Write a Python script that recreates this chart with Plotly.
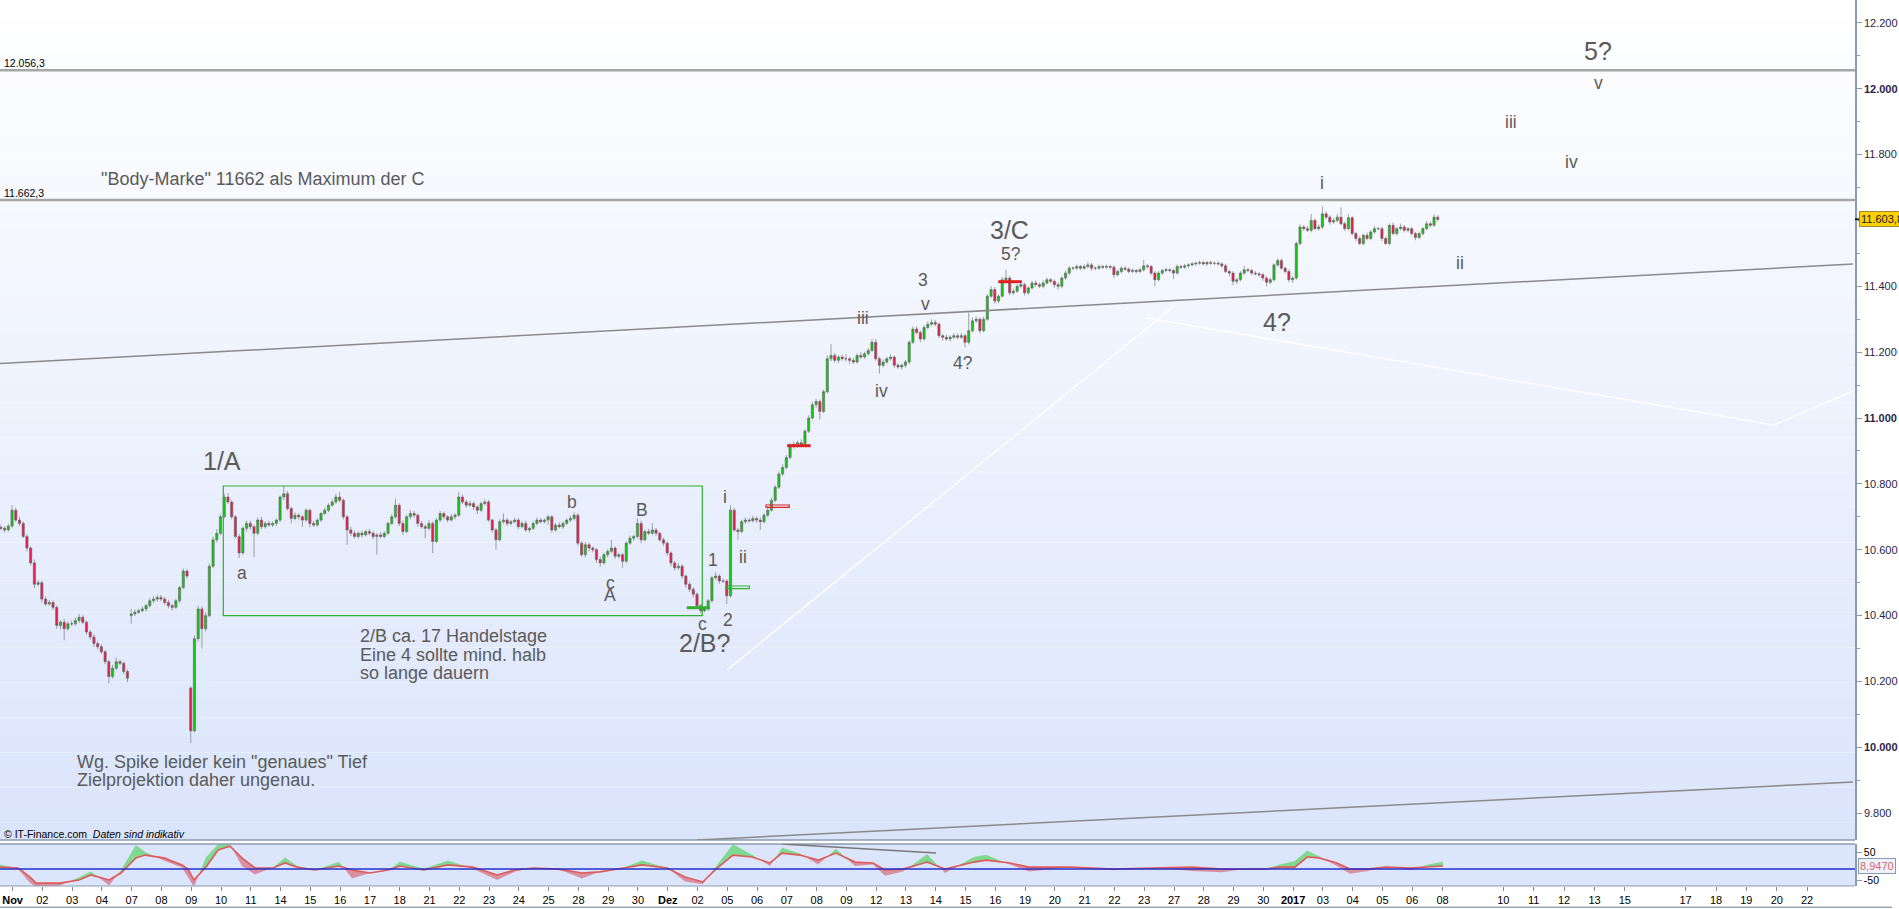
import plotly.graph_objects as go

# ---------------- data ----------------
TRADING_DAYS = [
    "2016-10-31",
    "2016-11-01", "2016-11-02", "2016-11-03", "2016-11-04", "2016-11-07", "2016-11-08",
    "2016-11-09", "2016-11-10", "2016-11-11", "2016-11-14", "2016-11-15", "2016-11-16",
    "2016-11-17", "2016-11-18", "2016-11-21", "2016-11-22", "2016-11-23", "2016-11-24",
    "2016-11-25", "2016-11-28", "2016-11-29", "2016-11-30",
    "2016-12-01", "2016-12-02", "2016-12-05", "2016-12-06", "2016-12-07", "2016-12-08",
    "2016-12-09", "2016-12-12", "2016-12-13", "2016-12-14", "2016-12-15", "2016-12-16",
    "2016-12-19", "2016-12-20", "2016-12-21", "2016-12-22", "2016-12-23", "2016-12-27",
    "2016-12-28", "2016-12-29", "2016-12-30",
    "2017-01-02", "2017-01-03", "2017-01-04", "2017-01-05", "2017-01-06",
]

# hourly candles: "close/upper wick/lower wick"
OCT_CANDLES = ["10665/8/6 10660/6/8 10672/6/5"]
NOV_CANDLES = [
    "10720/15/7 10690/8/6 10680/10/8 10640/6/5 10605/8/10 10560/5/8 10495/10/12 10500/8/6",
    "10450/6/10 10435/8/6 10440/8/5 10425/6/8 10370/5/10 10380/6/12 10360/10/35 10375/8/6",
    "10375/10/6 10385/8/5 10395/10/8 10380/6/6 10350/5/8 10335/6/8 10315/8/10 10305/6/8",
    "10290/8/6 10260/5/8 10215/6/20 10240/10/6 10260/12/5 10255/6/6 10230/5/8 10210/6/12",
    "10405/15/25 10410/8/6 10415/6/5 10420/8/6 10430/6/8 10445/8/5 10450/10/6 10455/8/8",
    "10450/8/6 10440/6/8 10430/8/8 10425/6/10 10445/6/5 10485/5/6 10535/8/5 10520/6/8",
    "10050/5/37 10330/10/5 10420/10/10 10360/8/60 10400/10/8 10550/8/6 10630/10/6 10650/12/8",
    "10700/8/6 10760/10/5 10745/12/6 10700/6/8 10640/5/6 10590/8/15 10665/6/5 10680/8/10",
    "10670/8/10 10650/6/72 10690/8/6 10670/10/8 10680/6/6 10675/8/5 10680/6/6 10690/5/8",
    "10760/5/6 10770/25/10 10725/8/6 10695/6/15 10705/8/6 10700/6/8 10690/5/20 10720/6/5",
    "10680/5/12 10675/8/6 10690/6/5 10710/5/6 10720/8/5 10735/6/6 10745/8/5 10760/10/6",
    "10750/15/6 10700/6/8 10660/5/45 10650/10/8 10640/8/6 10650/6/6 10645/8/8 10655/6/5",
    "10650/8/6 10640/6/8 10645/6/55 10640/8/6 10650/6/5 10680/5/6 10700/8/5 10735/20/6",
    "10680/6/8 10655/8/10 10700/6/5 10710/10/6 10705/8/8 10680/5/10 10670/8/6 10665/6/30",
    "10680/10/6 10625/6/35 10690/6/5 10710/8/6 10700/6/8 10690/5/6 10700/8/5 10705/6/8",
    "10760/15/5 10745/8/6 10735/6/8 10740/8/5 10730/6/10 10720/5/12 10740/6/5 10745/8/6",
    "10690/6/5 10660/5/8 10630/6/30 10685/8/5 10690/20/6 10680/6/8 10685/5/6 10690/6/5",
    "10670/6/8 10680/6/5 10660/8/6 10665/5/8 10680/6/5 10690/8/6 10685/6/5 10690/5/6",
    "10700/6/15 10660/5/8 10675/6/6 10670/8/5 10680/6/6 10690/5/5 10695/8/6 10705/8/6",
    "10620/6/8 10585/5/6 10615/8/8 10605/6/10 10600/5/8 10570/6/10 10560/8/12 10585/6/5",
    "10595/6/8 10605/25/6 10580/5/8 10585/6/6 10565/6/20 10620/5/6 10635/8/5 10640/6/8",
    "10680/15/6 10630/8/10 10655/6/5 10650/8/6 10660/20/5 10650/6/8 10630/5/6 10620/6/8",
]
DEC_CANDLES = [
    "10590/6/8 10560/5/10 10545/6/8 10550/8/6 10520/6/8 10495/5/10 10480/8/8 10465/6/10",
    "10430/5/8 10415/6/8 10420/6/5 10445/5/6 10515/6/5 10520/12/6 10505/6/8 10505/8/6",
    "10460/5/25 10720/15/5 10660/8/6 10655/6/25 10685/6/5 10690/8/6 10688/6/6 10695/8/5",
    "10690/6/8 10685/8/25 10705/6/5 10720/10/6 10750/8/5 10790/6/6 10830/8/5 10850/10/6",
    "10880/8/6 10915/10/6 10920/8/8 10925/6/10 10920/10/8 10960/6/5 11000/8/6 11040/10/5",
    "11050/8/10 11020/6/25 11080/6/5 11180/10/6 11190/35/8 11175/8/6 11185/6/8 11180/8/6",
    "11180/15/8 11175/6/10 11170/8/6 11190/6/5 11185/10/6 11195/6/5 11205/8/6 11230/10/5",
    "11180/10/6 11160/6/25 11170/8/6 11180/6/5 11185/8/6 11160/5/8 11155/6/6 11160/5/8",
    "11170/6/8 11230/5/6 11270/8/5 11260/8/6 11240/5/10 11275/6/5 11285/8/6 11290/10/6",
    "11285/8/6 11250/5/8 11245/6/10 11240/8/6 11245/6/8 11250/8/5 11245/6/6 11250/8/5",
    "11230/6/15 11265/55/6 11295/10/5 11300/8/6 11265/6/8 11300/8/5 11370/6/5 11390/10/6",
    "11355/8/8 11370/6/6 11420/8/5 11425/25/6 11380/6/8 11385/8/6 11400/6/5 11405/8/6",
    "11380/6/8 11395/5/6 11410/6/5 11405/8/6 11400/6/5 11410/8/6 11420/6/5 11415/5/6",
    "11405/6/10 11400/8/10 11425/5/6 11440/8/5 11455/6/6 11455/5/6 11460/6/5 11455/5/6",
    "11460/6/5 11465/8/6 11455/6/8 11455/5/6 11460/6/5 11458/5/6 11460/6/5 11458/5/6",
    "11435/6/10 11445/6/5 11455/5/6 11452/6/5 11445/5/6 11448/6/5 11445/5/6 11450/6/5",
    "11462/18/5 11460/6/6 11440/5/6 11420/6/20 11440/6/5 11448/5/6 11450/6/5 11448/5/6",
    "11440/6/18 11460/6/5 11458/5/6 11462/6/5 11465/5/6 11468/6/5 11470/5/6 11472/6/5",
    "11468/6/5 11472/5/6 11470/6/5 11470/5/6 11468/6/5 11462/5/6 11445/6/5 11440/5/10",
    "11415/6/12 11420/5/8 11440/6/5 11450/12/6 11448/6/5 11440/5/6 11438/6/5 11435/5/6",
    "11425/6/8 11412/5/12 11420/6/6 11465/5/6 11478/7/5 11455/6/5 11445/5/6 11420/6/8",
]
JAN_CANDLES = [
    "11425/6/10 11530/6/5 11580/8/6 11575/6/6 11570/8/5 11600/20/6 11575/6/5 11580/8/6",
    "11620/23/6 11610/8/6 11595/6/8 11600/8/5 11610/10/6 11590/30/5 11575/6/6 11608/12/5",
    "11560/6/6 11545/5/8 11530/6/5 11555/5/6 11545/8/5 11565/6/5 11575/8/6 11575/6/5",
    "11545/6/8 11530/6/5 11585/6/6 11560/8/5 11575/6/6 11580/10/5 11570/6/6 11575/5/6",
    "11560/6/6 11548/5/8 11560/6/5 11575/5/6 11590/8/5 11585/6/6 11610/8/5 11603/6/6",
]
GAP_OPENS = {"2016-10-31": 10668, "2016-11-07": 10400, "2016-11-09": 10180}
CANDLES_PER_DAY = 8

# indicator pane: sample times (trading-day units), signal line and raw line
IND_T = [-0.34, 0.26, 0.66, 0.87, 1.67, 2.31, 2.71, 3.32, 3.72, 4.22, 4.53, 5.16, 5.77, 5.97,
         6.17, 6.57, 6.98, 7.38, 7.78, 8.22, 8.82, 9.23, 9.63, 10.23, 11.04, 11.48, 12.08,
         12.69, 13.09, 13.89, 14.70, 15.54, 16.35, 16.95, 17.56, 18.39, 19.20, 19.80, 20.61,
         21.21, 22.06, 22.66, 23.26, 23.67, 24.27, 24.91, 25.51, 25.92, 26.52, 27.13, 27.73,
         28.37, 28.97, 29.38, 29.98, 30.79, 31.39, 32.36, 32.77, 33.57, 34.21, 35.62, 37.03,
         38.27, 39.68, 40.69, 41.53, 42.14, 42.64, 43.14, 43.55, 43.95, 44.55, 44.99, 45.59,
         46.20, 47.01, 47.61, 48.11]
IND_SIGNAL = [-4, -7, -39, -61, -61, -50, -32, -50, -25, 29, 39, 29, 4, -11, -50, -4, 57, 71,
              29, -7, -7, 11, -4, -14, 0, -14, -25, -14, 0, -14, 4, -4, -32, -14, -7, -11, -25,
              -21, -7, 4, -7, -39, -57, -14, 39, 32, 11, 46, 39, 21, 46, 14, 11, -14, -11, 14,
              -11, 14, 21, 11, -4, -4, -11, -7, -4, -11, -11, -11, -4, -4, 32, 29, 11, -11,
              -11, -4, -7, -4, 0]
IND_RAW = [5, -10, -60, -75, -70, -40, -20, -70, -15, 75, 50, 20, -5, -40, -75, 30, 78, 78, 0,
           -30, -5, 30, 0, -15, 15, -45, -25, -15, 15, -10, 20, -10, -50, -20, -5, -10, -45,
           -20, -5, 20, -5, -55, -65, -5, 78, 40, 0, 65, 45, 5, 62, 0, 5, -35, -20, 42, -25,
           32, 40, 5, -20, -5, -15, -5, -18, -22, -10, -10, 5, 18, 55, 35, 0, -28, -18, 0,
           -15, 5, 15]
IND_BASELINE = -11
IND_LAST_LABEL = "8,9470"

PRICE_TICKS = [9800, 10000, 10200, 10400, 10600, 10800, 11000, 11200, 11400, 11800, 12000, 12200]
LEVELS = [12056.3, 11662.3]
LAST_PRICE_LABEL = "11.603,8"
FUTURE_SLOTS = [48, 50, 51, 52, 53, 54, 56, 57, 58, 59, 60]
FUTURE_LABELS = ["08", "10", "11", "12", "13", "15", "17", "18", "19", "20", "22"]
MONTHS_DE = {1: "Jan", 11: "Nov", 12: "Dez"}

# ---------------- geometry / style ----------------
W, H = 1899, 909
PLOT_R = 1855
MAIN_BOTTOM_PX = 840
IND_TOP_PX, IND_BOT_PX = 844, 886
PX_PER_DAY, DAY0_PX = 29.78, 10.2
PX_PER_PT, Y12000_PX = 0.3293, 88.7
XR = [(0 - DAY0_PX) / PX_PER_DAY, (PLOT_R - DAY0_PX) / PX_PER_DAY]
YR = [12000 - (MAIN_BOTTOM_PX - Y12000_PX) / PX_PER_PT, 12000 + Y12000_PX / PX_PER_PT]
IND_R = [-71.4, 78.6]
FONT = "Liberation Sans, Arial, sans-serif"
TXT = "#5a5a5a"
AXIS_C = "#8c9cb0"


def de_num(v, dec=0):
    s = f"{v:,.{dec}f}"
    return s.replace(",", "X").replace(".", ",").replace("X", ".")


# ---------------- build candles ----------------
all_days = OCT_CANDLES + NOV_CANDLES + DEC_CANDLES + JAN_CANDLES
xs, op, hi, lo, cl = [], [], [], [], []
prev = None
for i, (day, s) in enumerate(zip(TRADING_DAYS, all_days)):
    toks = s.split()
    n = len(toks)
    for j, t in enumerate(toks):
        c, up, dn = (float(v) for v in t.split("/"))
        k = CANDLES_PER_DAY - n + j
        o = GAP_OPENS[day] if (j == 0 and day in GAP_OPENS) else prev
        xs.append((i - 1) + (k + 0.5) / CANDLES_PER_DAY)
        op.append(o)
        cl.append(c)
        hi.append(max(o, c) + up)
        lo.append(min(o, c) - dn)
        prev = c

fig = go.Figure()
fig.add_trace(go.Candlestick(
    x=xs, open=op, high=hi, low=lo, close=cl, xaxis="x", yaxis="y",
    increasing=dict(line=dict(color="#666666", width=0.6), fillcolor="#10c810"),
    decreasing=dict(line=dict(color="#666666", width=0.6), fillcolor="#f0184a"),
    whiskerwidth=0, hoverinfo="skip", showlegend=False))

# ---------------- indicator fills ----------------
gx, gy, rx, ry = [], [], [], []


def add_poly(px_, py_, positive):
    tx, ty = (gx, gy) if positive else (rx, ry)
    tx.extend(px_ + [px_[0], None])
    ty.extend(py_ + [py_[0], None])


for a in range(len(IND_T) - 1):
    x0, x1 = IND_T[a], IND_T[a + 1]
    r0, r1 = IND_RAW[a], IND_RAW[a + 1]
    s0, s1 = IND_SIGNAL[a], IND_SIGNAL[a + 1]
    d0, d1 = r0 - s0, r1 - s1
    if d0 * d1 >= 0:
        add_poly([x0, x1, x1, x0], [r0, r1, s1, s0], (d0 + d1) >= 0)
    else:
        t = d0 / (d0 - d1)
        xc = x0 + t * (x1 - x0)
        yc = s0 + t * (s1 - s0)
        add_poly([x0, xc, x0], [r0, yc, s0], d0 > 0)
        add_poly([xc, x1, x1], [yc, r1, s1], d1 > 0)

fig.add_trace(go.Scatter(x=gx, y=gy, xaxis="x2", yaxis="y2", mode="lines", fill="toself",
                         fillcolor="rgba(110,215,125,0.85)", line=dict(width=0),
                         hoverinfo="skip", showlegend=False))
fig.add_trace(go.Scatter(x=rx, y=ry, xaxis="x2", yaxis="y2", mode="lines", fill="toself",
                         fillcolor="rgba(215,110,125,0.7)", line=dict(width=0),
                         hoverinfo="skip", showlegend=False))
fig.add_trace(go.Scatter(x=IND_T, y=IND_SIGNAL, xaxis="x2", yaxis="y2", mode="lines",
                         line=dict(color="#e05a5a", width=1.6), hoverinfo="skip",
                         showlegend=False))

# ---------------- shapes ----------------
shapes = []
N = 48
top_c, bot_c = (255, 255, 255), (218, 228, 251)
for k in range(N):
    t = (k + 0.5) / N
    col = tuple(round(bot_c[m] + (top_c[m] - bot_c[m]) * t) for m in range(3))
    shapes.append(dict(type="rect", xref="x domain", yref="y domain", x0=0, x1=1,
                       y0=k / N, y1=(k + 1) / N, fillcolor="rgb(%d,%d,%d)" % col,
                       line=dict(width=0), layer="below"))
shapes.append(dict(type="rect", xref="x2 domain", yref="y2 domain", x0=0, x1=1, y0=0, y1=1,
                   fillcolor="#dbe5fb", line=dict(width=0), layer="below"))
# pane borders
shapes += [
    dict(type="line", xref="x domain", yref="y domain", x0=0, x1=1, y0=0, y1=0,
         line=dict(color=AXIS_C, width=1.5)),
    dict(type="line", xref="x2 domain", yref="y2 domain", x0=0, x1=1, y0=1, y1=1,
         line=dict(color=AXIS_C, width=1.5)),
    dict(type="line", xref="x2 domain", yref="y2 domain", x0=0, x1=1, y0=0, y1=0,
         line=dict(color=AXIS_C, width=1.2)),
    dict(type="line", xref="paper", yref="paper", x0=0, x1=1.02, y0=0.002, y1=0.002,
         line=dict(color="#9aa6b4", width=1.5)),
]
# horizontal levels
for lv in LEVELS:
    shapes.append(dict(type="line", xref="x domain", yref="y", x0=0, x1=1, y0=lv, y1=lv,
                       line=dict(color="#a6a6a6", width=2.5)))
# trend lines (drawn objects)
shapes += [
    dict(type="line", xref="x", yref="y", x0=-0.3425, y0=11165.2, x1=61.88, y1=11467.7,
         line=dict(color="#8a8a8a", width=1.5)),
    dict(type="line", xref="x", yref="y", x0=23.06, y0=9718.5, x1=61.88, y1=9894.7,
         line=dict(color="#8a8a8a", width=1.5)),
    dict(type="line", xref="x", yref="y", x0=24.07, y0=10234.8, x1=39.05, y1=11337.1,
         line=dict(color="rgba(255,255,255,0.95)", width=1.5)),
    dict(type="line", xref="x", yref="y", x0=38.17, y0=11303.7, x1=59.23, y1=10978.8,
         line=dict(color="rgba(255,255,255,0.95)", width=1.5)),
    dict(type="line", xref="x", yref="y", x0=59.23, y0=10978.8, x1=61.88, y1=11082.0,
         line=dict(color="rgba(255,255,255,0.95)", width=1.5)),
    dict(type="line", xref="x2", yref="y2", x0=25.92, y0=78.6, x1=31.09, y1=46.4,
         line=dict(color="#777777", width=1.5)),
    dict(type="line", xref="x2 domain", yref="y2", x0=0, x1=1, y0=IND_BASELINE,
         y1=IND_BASELINE, line=dict(color="#2430c8", width=1.5)),
]
# box and small markers
GREEN, RED = "#2fb02f", "#e02020"
shapes += [
    dict(type="rect", xref="x", yref="y", x0=7.156, x1=23.24, y0=10399.7, y1=10793.5,
         line=dict(color=GREEN, width=1.2)),
    dict(type="line", xref="x", yref="y", x0=22.72, x1=23.50, y0=10424, y1=10424,
         line=dict(color=GREEN, width=3)),
    dict(type="rect", xref="x", yref="y", x0=24.04, x1=24.82, y0=10481.6, y1=10489.8,
         line=dict(color=GREEN, width=1.2)),
    dict(type="rect", xref="x", yref="y", x0=25.38, x1=26.16, y0=10728.8, y1=10735.8,
         line=dict(color=RED, width=1.2)),
    dict(type="line", xref="x", yref="y", x0=26.09, x1=26.88, y0=10915.9, y1=10915.9,
         line=dict(color=RED, width=3)),
    dict(type="line", xref="x", yref="y", x0=33.18, x1=33.97, y0=11413.9, y1=11413.9,
         line=dict(color=RED, width=3)),
    dict(type="line", xref="paper", yref="y", x0=1, x1=1 + 5 / PLOT_R, y0=11603.8,
         y1=11603.8, line=dict(color="#000000", width=1.5)),
]

# ---------------- annotations ----------------
ann = []
BIG, MED = 25, 17.5
labels = [
    ("1/A", 7.10, 10869.4, BIG), ("a", 7.77, 10530.2, MED), ("b", 18.86, 10744, MED),
    ("B", 21.21, 10720.6, MED), ("c", 20.15, 10498, MED), ("A", 20.15, 10462.5, MED),
    ("1", 23.59, 10569, MED), ("i", 24.0, 10761, MED), ("ii", 24.62, 10578.8, MED),
    ("c", 23.24, 10374.6, MED), ("2", 24.1, 10386.7, MED), ("2/B?", 23.33, 10317.6, BIG),
    ("iii", 28.65, 11302.8, MED), ("iv", 29.26, 11082.9, MED), ("3", 30.64, 11419.8, MED),
    ("v", 30.72, 11346.2, MED), ("4?", 32.0, 11166, MED), ("3/C", 33.57, 11571, BIG),
    ("5?", 33.6, 11498, MED), ("4?", 42.53, 11292.5, BIG), ("i", 44.04, 11712.7, MED),
    ("ii", 48.68, 11471.6, MED), ("iii", 50.4, 11899.8, MED), ("iv", 52.43, 11776.5, MED),
    ("v", 53.33, 12018.2, MED), ("5?", 53.31, 12115.4, BIG),
]
for txt, x, y, sz in labels:
    ann.append(dict(text=txt, x=x, y=y, xref="x", yref="y", showarrow=False,
                    xanchor="center", yanchor="middle", font=dict(size=sz, color=TXT)))
notes = [
    ('"Body-Marke" 11662 als Maximum der C', 2.99, 11724.9),
    ("2/B ca. 17 Handelstage", 11.68, 10339),
    ("Eine 4 sollte mind. halb", 11.68, 10280.3),
    ("so lange dauern", 11.68, 10225.7),
    ('Wg. Spike leider kein "genaues" Tief', 2.176, 9956.3),
    ("Zielprojektion daher ungenau.", 2.176, 9900.7),
]
for txt, x, y in notes:
    ann.append(dict(text=txt, x=x, y=y, xref="x", yref="y", showarrow=False,
                    xanchor="left", yanchor="middle", font=dict(size=18, color=TXT)))
for lv in LEVELS:
    ann.append(dict(text=de_num(lv, 1), x=0.001, y=lv, xref="paper", yref="y",
                    showarrow=False, xanchor="left", yanchor="bottom", yshift=-1,
                    font=dict(size=10.5, color="#000000")))
ann.append(dict(text="© IT-Finance.com  <i>Daten sind indikativ</i>", x=0.001,
                y=1 - 834 / H, xref="paper", yref="paper", showarrow=False,
                xanchor="left", yanchor="middle", font=dict(size=10.5, color="#000000")))
ann.append(dict(text=LAST_PRICE_LABEL, x=1, xshift=4, y=11603.8, xref="paper", yref="y",
                showarrow=False, xanchor="left", yanchor="middle", bgcolor="#ffd000",
                bordercolor="#9a8a40", borderwidth=1, borderpad=1,
                font=dict(size=11, color="#1a1a3a")))
ann.append(dict(text=IND_LAST_LABEL, x=1, xshift=3, y=-1, xref="paper", yref="y2",
                showarrow=False, xanchor="left", yanchor="middle", bgcolor="#eef2fc",
                bordercolor="#8a9ab0", borderwidth=1, borderpad=1,
                font=dict(size=11, color="#e06666")))

# ---------------- axes ticks ----------------
xtv, xtt = [], []
prev_month = None
for i, day in enumerate(TRADING_DAYS):
    yy, mm, dd = (int(p) for p in day.split("-"))
    idx = i - 1
    if prev_month is not None and mm != prev_month:
        lab = "<b>%d</b>" % yy if mm == 1 else "<b>%s</b>" % MONTHS_DE[mm]
    else:
        lab = "%02d" % dd
    prev_month = mm
    if idx >= 0:
        xtv.append(idx + 0.08)
        xtt.append(lab)
for slot, lab in zip(FUTURE_SLOTS, FUTURE_LABELS):
    xtv.append(slot + 0.08 + (slot - 47) * 0.02)
    xtt.append(lab)

ytt = ["<b>%s</b>" % de_num(v) if v % 1000 == 0 else de_num(v) for v in PRICE_TICKS]

fig.update_layout(
    template="none",
    width=W, height=H,
    margin=dict(l=0, r=W - PLOT_R, t=0, b=0, pad=0),
    paper_bgcolor="#ffffff", plot_bgcolor="rgba(0,0,0,0)",
    font=dict(family=FONT, color="#000000"),
    showlegend=False, boxgap=0.15, hovermode=False,
    xaxis=dict(domain=[0, 1], range=XR, anchor="y", showticklabels=False, showgrid=False,
               zeroline=False, showline=False, ticks="", rangeslider=dict(visible=False),
               automargin=False),
    yaxis=dict(domain=[1 - MAIN_BOTTOM_PX / H, 1], range=YR, anchor="x", side="right",
               tickvals=PRICE_TICKS, ticktext=ytt, ticks="outside", ticklen=5,
               tickcolor=AXIS_C, showgrid=False, zeroline=False, showline=True,
               linecolor=AXIS_C, linewidth=1.5, automargin=False,
               tickfont=dict(size=11, color="#2c1e48"),
               minor=dict(ticks="outside", ticklen=3, dtick=100, tick0=0, tickcolor=AXIS_C)),
    xaxis2=dict(domain=[0, 1], range=XR, anchor="y2", tickvals=xtv, ticktext=xtt,
                ticks="outside", ticklen=4, tickcolor="#7a8a9a", showgrid=False,
                zeroline=False, showline=False, automargin=False,
                tickfont=dict(size=11, color="#000000")),
    yaxis2=dict(domain=[1 - IND_BOT_PX / H, 1 - IND_TOP_PX / H], range=IND_R, anchor="x2",
                side="right", tickvals=[50, -50], ticktext=["50", "-50"], ticks="outside",
                ticklen=5, tickcolor=AXIS_C, showgrid=False, zeroline=False, showline=True,
                linecolor=AXIS_C, linewidth=1.5, automargin=False,
                tickfont=dict(size=10.5, color="#000000")),
    shapes=shapes,
    annotations=ann,
)

fig.write_html("out.html", config={"displayModeBar": False},
               post_script="document.body.style.margin='0';document.body.style.overflow='hidden';")
